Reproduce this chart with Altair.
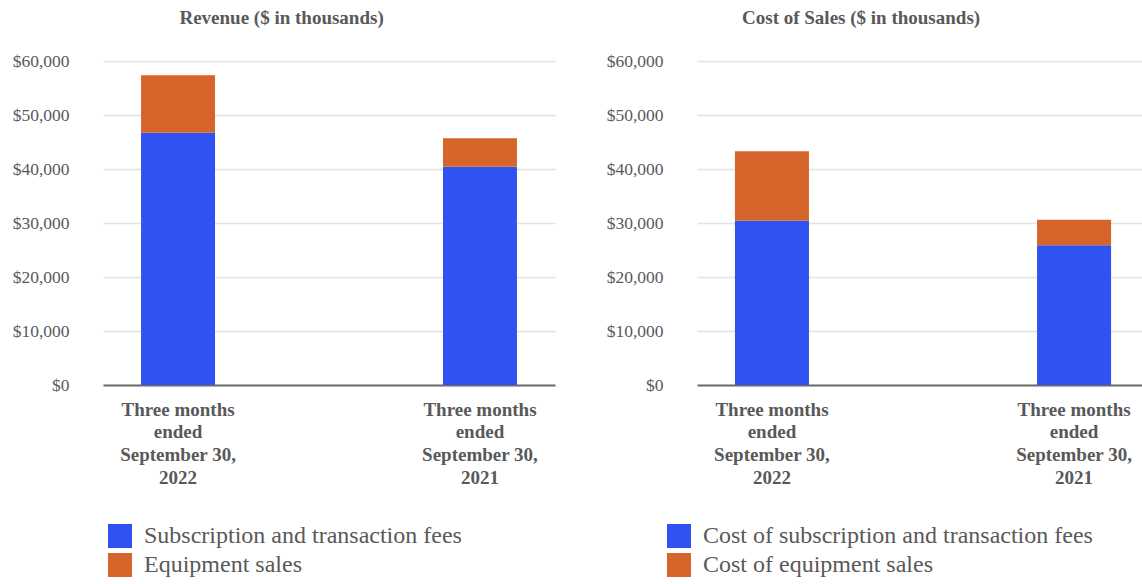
import altair as alt
import pandas as pd

# Period labels, "|" separates the lines of each axis label
periods = [
    "Three months|ended|September 30,|2022",
    "Three months|ended|September 30,|2021",
]

revenue_series = ["Subscription and transaction fees", "Equipment sales"]
revenue_subscription = [46700, 40400]
revenue_equipment = [10650, 5300]

cost_series = ["Cost of subscription and transaction fees", "Cost of equipment sales"]
cost_subscription = [30400, 25900]
cost_equipment = [12900, 4700]

series_colors = ["#2F52F0", "#D5652A"]
y_ticks = [0, 10000, 20000, 30000, 40000, 50000, 60000]

FONT = "Liberation Serif"
TEXT_GRAY = "#595959"


def build_frame(series, first, second):
    rows = []
    for i, period in enumerate(periods):
        rows.append({"period": period, "series": series[0], "rank": 0, "value": first[i]})
        rows.append({"period": period, "series": series[1], "rank": 1, "value": second[i]})
    return pd.DataFrame(rows)


def panel(title, series, first, second, width, outer, align, legend_x, title_dx):
    return (
        alt.Chart(build_frame(series, first, second))
        .mark_bar()
        .encode(
            x=alt.X(
                "period:N",
                sort=periods,
                scale=alt.Scale(paddingInner=0.755, paddingOuter=outer, align=align),
                axis=alt.Axis(
                    title=None,
                    labelAngle=0,
                    labelExpr="split(datum.label, '|')",
                    labelFont=FONT,
                    labelFontSize=19,
                    labelFontWeight="bold",
                    labelColor=TEXT_GRAY,
                    labelLineHeight=22.7,
                    labelPadding=15,
                    labelLimit=400,
                    ticks=False,
                    domainColor="#6b6b6b",
                    domainWidth=2,
                ),
            ),
            y=alt.Y(
                "value:Q",
                stack="zero",
                scale=alt.Scale(domain=[0, 60000], nice=False),
                axis=alt.Axis(
                    title=None,
                    values=y_ticks,
                    format="$,.0f",
                    labelFont=FONT,
                    labelFontSize=17.5,
                    labelColor=TEXT_GRAY,
                    labelPadding=34,
                    ticks=False,
                    domain=False,
                    gridColor="#e3e3e3",
                    gridWidth=1.5,
                ),
            ),
            color=alt.Color(
                "series:N",
                scale=alt.Scale(domain=series, range=series_colors),
                legend=alt.Legend(
                    title=None,
                    orient="none",
                    legendX=legend_x,
                    legendY=463,
                    direction="vertical",
                    symbolType="square",
                    symbolSize=576,
                    symbolStrokeWidth=0,
                    symbolOpacity=1,
                    labelFont=FONT,
                    labelFontSize=24,
                    labelColor=TEXT_GRAY,
                    labelOffset=12,
                    labelLimit=600,
                    rowPadding=5,
                    padding=0,
                ),
            ),
            order=alt.Order("rank:Q"),
        )
        .properties(
            width=width,
            height=324,
            title=alt.TitleParams(
                text=title,
                font=FONT,
                fontSize=19,
                fontWeight="bold",
                color=TEXT_GRAY,
                anchor="middle",
                frame="bounds",
                offset=24,
                dx=title_dx,
            ),
        )
    )


revenue = panel("Revenue ($ in thousands)", revenue_series,
                revenue_subscription, revenue_equipment, 452, 0.126, 0.5, 5, -2)
cost = panel("Cost of Sales ($ in thousands)", cost_series,
             cost_subscription, cost_equipment, 445, 0.114, 0.551, -30, -13)

chart = (
    alt.hconcat(revenue, cost, spacing=51)
    .resolve_scale(color="independent", x="independent", y="independent")
    .configure(padding={"left": 12, "top": 9, "right": 0, "bottom": 0},
               background="white", font=FONT)
    .configure_axis(labelFont=FONT)
    .configure_legend(labelFont=FONT)
    .configure_view(stroke=None)
)

chart.save("out.html", embed_options={"renderer": "svg", "actions": False})
